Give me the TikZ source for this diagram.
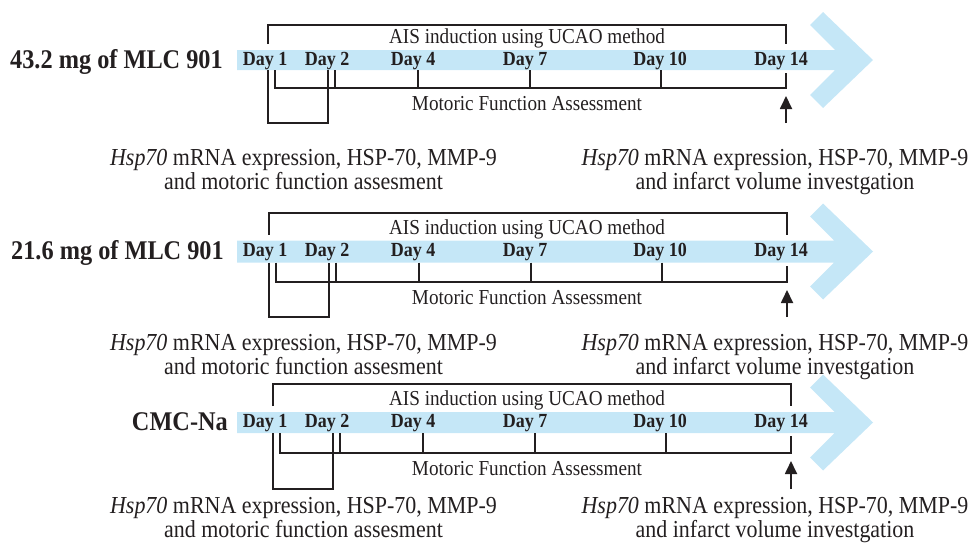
\documentclass[tikz,border=0pt]{standalone}
\usepackage{fontspec}
\setmainfont{Liberation Serif}[FakeStretch=0.9]
\usetikzlibrary{arrows.meta}
\definecolor{bandblue}{RGB}{197,231,247}
\definecolor{ink}{RGB}{35,31,32}
\tikzset{
  bracket/.style={draw=ink, line width=1.9pt},
  daylbl/.style={anchor=base, inner sep=0pt, text=ink, font=\bfseries\fontsize{20}{22}\selectfont},
  grplbl/.style={anchor=base east, inner sep=0pt, text=ink, font=\bfseries\fontsize{27}{30}\selectfont},
  spanlbl/.style={anchor=base, inner sep=0pt, text=ink, font=\fontsize{21.3}{24}\selectfont},
  caption/.style={anchor=base, inner sep=0pt, text=ink, font=\fontsize{24.4}{28}\selectfont},
  uparrow/.style={draw=ink, line width=1.8pt, -{Triangle[width=12pt,length=13pt]}},
}
% One treatment timeline:
% #1 name prefix, #2 group label, #3 band centre y, #4 band half height,
% #5 upper bracket y, #6 lower bracket y, #7 sampling box y, #8 bracket x shift,
% #9 baseline of the first caption line
\newcommand\tlrow[9]{%
  % blue band ending in a chevron
  \fill[bandblue] (237,{#3-#4}) -- ({845-#4},{#3-#4}) -- (810,{#3-35}) -- (823,{#3-48})
    -- (873,#3) -- (823,{#3+48}) -- (810,{#3+35}) -- ({845-#4},{#3+#4})
    -- (237,{#3+#4}) -- cycle;
  % group label and day labels
  \node[grplbl] (#1-grp) at ({223+#8},{#3+8}) {#2};
  \node[daylbl] (#1-d1)  at (265,{#3+5}) {Day 1};
  \node[daylbl] (#1-d2)  at (327,{#3+5}) {Day 2};
  \node[daylbl] (#1-d4)  at (413,{#3+5}) {Day 4};
  \node[daylbl] (#1-d7)  at (525,{#3+5}) {Day 7};
  \node[daylbl] (#1-d10) at (660,{#3+5}) {Day 10};
  \node[daylbl] (#1-d14) at (781,{#3+5}) {Day 14};
  % upper bracket: stroke induction
  \coordinate (#1-ais-l) at ({268+#8},{#3-#4-6});
  \coordinate (#1-ais-r) at ({786+#8},{#3-#4-6});
  \coordinate (#1-ais-top) at (0,#5);
  \draw[bracket] (#1-ais-l) -- (#1-ais-l |- #1-ais-top) -- (#1-ais-r |- #1-ais-top) -- (#1-ais-r);
  \node[spanlbl] (#1-ais) at (527,{#3-#4-6.5}) {AIS induction using UCAO method};
  % lower bracket: motoric assessment with day ticks
  \coordinate (#1-mot-l) at ({275+#8},{#3+#4});
  \coordinate (#1-mot-r) at ({786+#8},{#3+#4+3});
  \coordinate (#1-mot-bot) at (0,#6);
  \draw[bracket] (#1-mot-l) -- (#1-mot-l |- #1-mot-bot) -- (#1-mot-r |- #1-mot-bot) -- (#1-mot-r);
  \foreach \tx in {335,418,530,661}
    \draw[bracket] ({\tx+#8},{#3+#4}) -- ({\tx+#8},#6);
  \node[spanlbl] (#1-mot) at (527,{#6+22}) {Motoric Function Assessment};
  % sampling box between day 1 and day 2
  \coordinate (#1-box-l) at ({268+#8},{#3+#4});
  \coordinate (#1-box-r) at ({328+#8},{#3+#4});
  \coordinate (#1-box-bot) at (0,#7);
  \draw[bracket] (#1-box-l) -- (#1-box-l |- #1-box-bot) -- (#1-box-r |- #1-box-bot) -- (#1-box-r);
  % day 14 sampling arrow
  \coordinate (#1-arr-tail) at ({786+#8},#7);
  \coordinate (#1-arr-tip) at ({786+#8},{#6+8});
  \draw[uparrow] (#1-arr-tail) -- (#1-arr-tip);
  % captions
  \node[caption] (#1-capL1) at (303.5,#9) {\textit{Hsp70} mRNA expression, HSP-70, MMP-9};
  \node[caption] (#1-capL2) at (303.5,{#9+24}) {and motoric function assesment};
  \node[caption] (#1-capR1) at (775,#9) {\textit{Hsp70} mRNA expression, HSP-70, MMP-9};
  \node[caption] (#1-capR2) at (775,{#9+24}) {and infarct volume investgation};
}
\begin{document}
\begin{tikzpicture}[x=1pt,y=-1pt]
  \path[use as bounding box] (0,0) rectangle (968,542);
  \tlrow{a}{43.2 mg of MLC 901}{60}{10}{25}{88}{123}{0}{165}
  \tlrow{b}{21.6 mg of MLC 901}{251.5}{11}{213}{282}{317}{1}{350}
  \tlrow{c}{CMC-Na}{422.5}{10.5}{384}{453}{489}{5}{513}
\end{tikzpicture}
\end{document}
